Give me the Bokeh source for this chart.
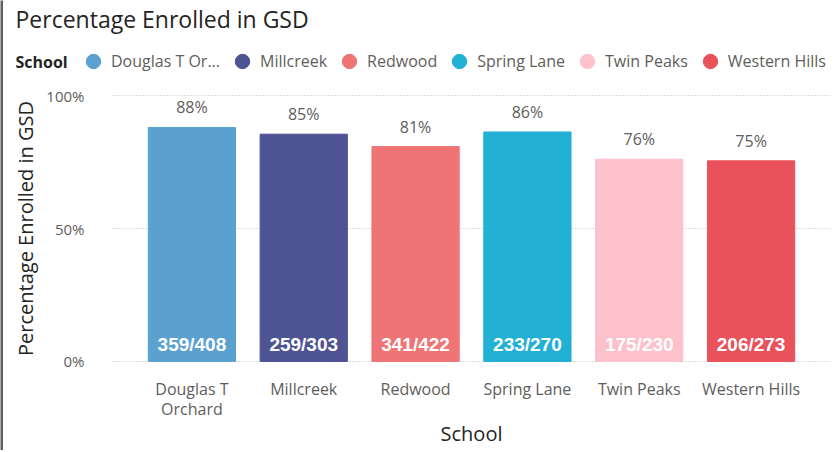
from bokeh.plotting import figure
from bokeh.layouts import column, row
from bokeh.models import (ColumnDataSource, FactorRange, Range1d, Legend, LegendItem,
                          Label, LabelSet, FixedTicker, NumeralTickFormatter, Plot)
from bokeh.core.properties import value
from bokeh.embed import file_html
from bokeh.resources import INLINE

schools = ["Douglas T\nOrchard", "Millcreek", "Redwood", "Spring Lane", "Twin Peaks", "Western Hills"]
legend_labels = ["Douglas T Or...", "Millcreek", "Redwood", "Spring Lane", "Twin Peaks", "Western Hills"]
enrolled = [359, 259, 341, 233, 175, 206]
totals = [408, 303, 422, 270, 230, 273]
pct_labels = ["88%", "85%", "81%", "86%", "76%", "75%"]
colors = ["#5AA1D0", "#4E5394", "#EE7475", "#22B0D5", "#FDC1CC", "#E9525B"]

pct = [e / t for e, t in zip(enrolled, totals)]
count_labels = [f"{e}/{t}" for e, t in zip(enrolled, totals)]

src = ColumnDataSource(dict(
    school=schools, pct=pct, color=colors,
    pct_label=pct_labels, count_label=count_labels,
    base=[0] * len(schools), nan=[float("nan")] * len(schools),
))

FONT = "Open Sans"
W = 831
HAS_FRAME_ALIGN = "frame_align" in Plot.properties()

# ---------- header: title + legend ----------
top = figure(width=W, height=80, output_backend="svg", toolbar_location=None,
             x_range=Range1d(0, 1), y_range=Range1d(0, 1),
             x_axis_location=None, y_axis_location=None,
             min_border_left=0, min_border_right=0, min_border_top=0, min_border_bottom=0)
if HAS_FRAME_ALIGN:
    top.frame_align = False
top.grid.visible = False
top.outline_line_color = None
top.title.text = "Percentage Enrolled in GSD"
top.title.text_font = FONT
top.title.text_font_size = "23px"
top.title.text_font_style = "normal"
top.title.text_color = "#252423"
top.title.offset = 12
top.title.standoff = 0

sc = top.scatter(x="nan", y="nan", color="color", size=12, source=src)
items = [LegendItem(label=legend_labels[i], renderers=[sc], index=i) for i in range(len(schools))]
legend = Legend(items=items, orientation="horizontal", location=(72, 1),
                glyph_width=36, glyph_height=36, label_standoff=0, spacing=4,
                padding=0, margin=0, border_line_alpha=0, background_fill_alpha=0,
                label_text_font=FONT, label_text_font_size="16px", label_text_color="#605E5C")
top.add_layout(legend, "center")
top.add_layout(Label(x=12, y=19, x_units="screen", y_units="screen", text="School",
                     text_font=FONT, text_font_size="16px", text_font_style="bold",
                     text_color="#252423", text_baseline="middle"))

# ---------- main chart ----------
p = figure(
    x_range=FactorRange(*schools, range_padding=0.21, range_padding_units="absolute"),
    y_range=Range1d(-0.004, 1.004),
    width=W, height=370,
    output_backend="svg", toolbar_location=None,
    min_border_left=109, min_border_right=4, min_border_top=14, min_border_bottom=82,
)
if HAS_FRAME_ALIGN:
    p.frame_align = False

p.vbar(x="school", top="pct", width=0.78, color="color", source=src)

p.add_layout(LabelSet(x="school", y="pct", text="pct_label", source=src, y_offset=9,
                      text_align="center", text_baseline="bottom",
                      text_font=value(FONT), text_font_size="16px", text_color="#605E5C"))
p.add_layout(LabelSet(x="school", y="base", text="count_label", source=src, y_offset=6,
                      text_align="center", text_baseline="bottom",
                      text_font=value("Liberation Sans"), text_font_size="19px",
                      text_font_style="bold", text_color="white"))

p.yaxis.ticker = FixedTicker(ticks=[0, 0.5, 1])
p.yaxis.formatter = NumeralTickFormatter(format="0%")
p.yaxis.axis_label = "Percentage Enrolled in GSD"
p.xaxis.axis_label = "School"

for ax in (p.xaxis[0], p.yaxis[0]):
    ax.axis_line_color = None
    ax.major_tick_line_color = None
    ax.minor_tick_line_color = None
    ax.major_label_text_font = FONT
    ax.major_label_text_color = "#605E5C"
    ax.axis_label_text_font = FONT
    ax.axis_label_text_font_size = "20px"
    ax.axis_label_text_font_style = "normal"
    ax.axis_label_text_color = "#252423"
p.xaxis.major_label_text_font_size = "16px"
p.xaxis.major_label_text_line_height = 0.95
p.xaxis.axis_label_text_line_height = 0.8
p.yaxis.major_label_text_font_size = "15px"
p.yaxis.major_label_standoff = 22
p.yaxis.axis_label_standoff = 4
p.xaxis.major_label_standoff = 9
try:
    p.xaxis.axis_label_standoff = -3
except Exception:
    p.xaxis.axis_label_standoff = 0

p.xgrid.grid_line_color = None
p.ygrid.grid_line_color = "#BDBDBD"
p.ygrid.grid_line_dash = "1 2"
p.outline_line_color = None

# ---------- dark left edge of the visual ----------
edge = figure(width=3, height=450, output_backend="svg", toolbar_location=None,
              x_axis_location=None, y_axis_location=None, min_border=0,
              background_fill_color="#5F5F5F", border_fill_color="#5F5F5F")
edge.grid.visible = False
edge.outline_line_color = None

layout = row(edge, column(top, p, spacing=0), spacing=0)
open("out.html", "w").write(file_html(layout, INLINE))
